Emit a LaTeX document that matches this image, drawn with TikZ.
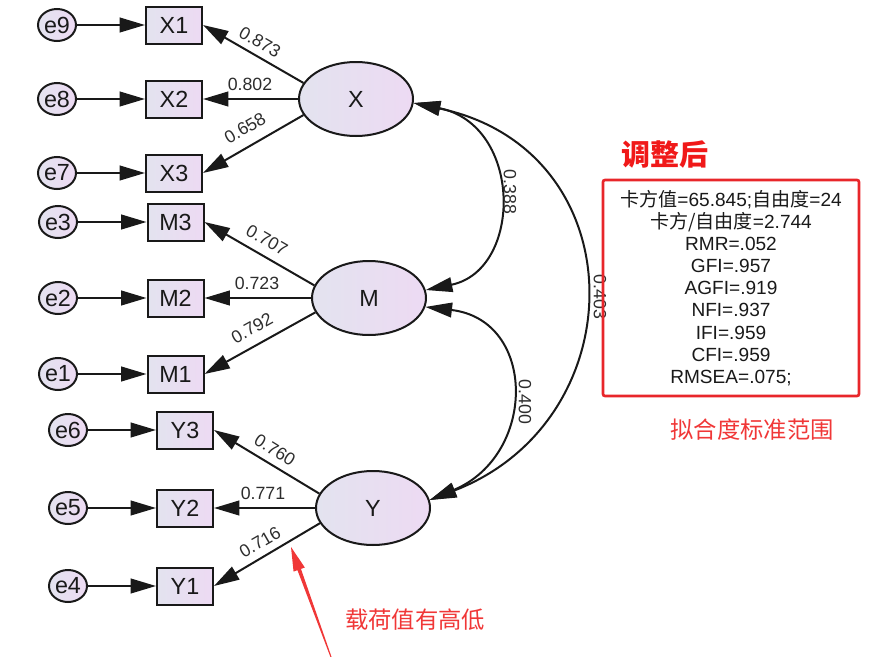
\documentclass[tikz,border=0pt]{standalone}
\usepackage{fontspec}
\setmainfont{Liberation Sans}
\newfontfamily\cjk{Noto Sans CJK SC}
\usetikzlibrary{arrows.meta,shapes.geometric,calc}
\definecolor{fillL}{RGB}{227,227,239}
\definecolor{fillR}{RGB}{237,218,243}
\definecolor{ink}{RGB}{25,25,25}
\definecolor{lblc}{RGB}{45,45,45}
\definecolor{redline}{RGB}{232,38,42}
\definecolor{redtxt}{RGB}{240,25,25}
\definecolor{redlight}{RGB}{240,55,55}
\begin{document}
\begin{tikzpicture}[x=0.75pt,y=-0.75pt,
  every node/.style={text=ink},
  obs/.style={draw=ink, line width=1.5pt, rectangle, minimum width=42pt, minimum height=27.75pt,
    left color=fillL, right color=fillR, font=\fontsize{17.5}{20}\selectfont, inner sep=0pt},
  err/.style={draw=ink, line width=1.5pt, ellipse, minimum width=28.5pt, minimum height=24pt,
    left color=fillL, right color=fillR, font=\fontsize{17.5}{20}\selectfont, inner sep=0pt},
  lat/.style={draw=ink, line width=1.5pt, ellipse, minimum width=85.5pt, minimum height=55.5pt,
    left color=fillL, right color=fillR, font=\fontsize{17.5}{20}\selectfont, inner sep=0pt},
  pth/.style={draw=ink, line width=1.5pt, -{Triangle[length=19pt,width=11pt]}},
  cov/.style={draw=ink, line width=1.5pt, {Triangle[length=20pt,width=11pt]}-{Triangle[length=20pt,width=11pt]}},
  lbl/.style={text=lblc, font=\fontsize{13.3}{15}\selectfont, inner sep=0pt},
]
\useasboundingbox (0,0) rectangle (876,657);

% X block
\node[err] (e9) at (57,25) {e9};
\node[err] (e8) at (57,99) {e8};
\node[err] (e7) at (57,173) {e7};
\node[obs] (X1) at (174,25) {X1};
\node[obs] (X2) at (174,99) {X2};
\node[obs] (X3) at (174,173) {X3};
\node[lat] (X) at (356,99) {X};

% M block
\node[err] (e3) at (58,222) {e3};
\node[err] (e2) at (58,298) {e2};
\node[err] (e1) at (58,374) {e1};
\node[obs] (M3) at (175.5,222) {M3};
\node[obs] (M2) at (175.5,298) {M2};
\node[obs] (M1) at (175.5,374) {M1};
\node[lat] (M) at (369,298) {M};

% Y block
\node[err] (e6) at (68,430) {e6};
\node[err] (e5) at (68,508) {e5};
\node[err] (e4) at (68,586) {e4};
\node[obs] (Y3) at (185,430) {Y3};
\node[obs] (Y2) at (185,508) {Y2};
\node[obs] (Y1) at (185,586) {Y1};
\node[lat] (Y) at (373,508) {Y};

% error arrows
\foreach \e/\o in {e9/X1,e8/X2,e7/X3,e3/M3,e2/M2,e1/M1,e6/Y3,e5/Y2,e4/Y1}
  \draw[pth] (\e) -- (\o);

% loadings
\draw[pth] (X.163) -- (X1.east);
\draw[pth] (X.west) -- (X2.east);
\draw[pth] (X.197) -- (X3.east);
\draw[pth] (M.167) -- (M3.east);
\draw[pth] (M.west) -- (M2.east);
\draw[pth] (M.195) -- (M1.east);
\draw[pth] (Y.165) -- (Y3.east);
\draw[pth] (Y.west) -- (Y2.east);
\draw[pth] (Y.196) -- (Y1.east);

\node[lbl, rotate=-30] at (260,42) {0.873};
\node[lbl] at (250,84) {0.802};
\node[lbl, rotate=30] at (245,128) {0.658};
\node[lbl, rotate=-30] at (267,240) {0.707};
\node[lbl] at (257,283) {0.723};
\node[lbl, rotate=29] at (252,328) {0.792};
\node[lbl, rotate=-32] at (275,450) {0.760};
\node[lbl] at (263,493) {0.771};
\node[lbl, rotate=30] at (260,542) {0.716};

% covariances
\draw[cov] (X.-4) .. controls (523,125) and (523,270) .. (M.8);
\draw[cov] (X.-4) .. controls (637,150) and (637,420) .. (Y.8);
\draw[cov] (M.-9) .. controls (537,320) and (537,455) .. (Y.8);
\node[lbl, rotate=-90] at (510,192) {0.388};
\node[lbl, rotate=-90] at (600,297) {0.403};
\node[lbl, rotate=-90] at (525,402) {0.400};

% fit box
\node[text=redtxt, font=\cjk\bfseries\fontsize{21.75}{24}\selectfont, inner sep=0pt] (title) at (665,155) {调整后};
\node[draw=redline, line width=2pt, rounded corners=1.5pt, minimum width=192pt, minimum height=162pt,
  align=center, inner sep=0pt, font=\fontsize{14.3}{16.6}\selectfont] (fit) at (731,288)
  {{\cjk 卡方值}=65.845;{\cjk 自由度}=24\\
   {\cjk 卡方/自由度}=2.744\\
   RMR=.052\\
   GFI=.957\\
   AGFI=.919\\
   NFI=.937\\
   IFI=.959\\
   CFI=.959\\
   RMSEA=.075;};
\node[text=redlight, font=\cjk\fontsize{17.5}{20}\selectfont, inner sep=0pt] (range) at (752,430) {拟合度标准范围};

% annotation
\node[text=redlight, font=\cjk\fontsize{17.5}{20}\selectfont, inner sep=0pt] (note) at (415,620) {载荷值有高低};
\coordinate (ra) at (331,657);
\coordinate (rb) at (291,547);
\coordinate (hb) at ($(rb)!18pt!(ra)$);
\fill[redlight] (rb) -- ($(hb)!4.5pt!90:(ra)$) -- ($(hb)!1.4pt!90:(ra)$)
  -- ($(ra)!0.4pt!-90:(rb)$) -- ($(ra)!0.4pt!90:(rb)$)
  -- ($(hb)!1.4pt!-90:(ra)$) -- ($(hb)!4.5pt!-90:(ra)$) -- cycle;
\end{tikzpicture}
\end{document}
